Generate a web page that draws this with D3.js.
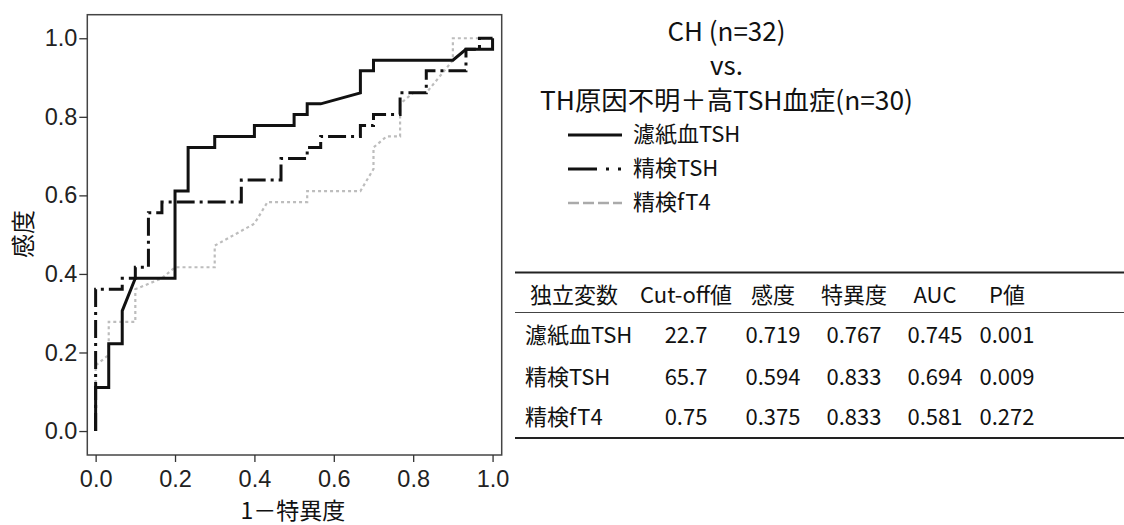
<!DOCTYPE html>
<html>
<head>
<meta charset="utf-8">
<script src="https://cdn.jsdelivr.net/npm/d3@7/dist/d3.min.js"></script>
<style>
  html, body { margin: 0; padding: 0; background: #fff; }
  svg { display: block; }
  .cjk { font-family: "Noto Sans CJK JP", "Noto Sans", sans-serif; fill: #111; }
</style>
</head>
<body>
<svg id="chart" width="1124" height="525"></svg>
<script>
// ROC curves: 1 - specificity (x) and sensitivity (y) for each test
const roshiTshFpr = [0, 0, 0.033, 0.033, 0.067, 0.067, 0.1, 0.2, 0.2, 0.233, 0.233, 0.3, 0.3, 0.4, 0.4, 0.5, 0.5, 0.533, 0.533, 0.567, 0.667, 0.667, 0.7, 0.7, 0.9, 0.933, 1.0, 1.0];
const roshiTshTpr = [0, 0.111, 0.111, 0.222, 0.222, 0.306, 0.389, 0.389, 0.611, 0.611, 0.722, 0.722, 0.75, 0.75, 0.778, 0.778, 0.806, 0.806, 0.833, 0.833, 0.861, 0.917, 0.917, 0.944, 0.944, 0.972, 0.972, 1.0];

const seikenTshFpr = [0, 0, 0.067, 0.067, 0.1, 0.1, 0.133, 0.133, 0.167, 0.167, 0.367, 0.367, 0.467, 0.467, 0.533, 0.533, 0.567, 0.567, 0.667, 0.667, 0.7, 0.7, 0.767, 0.767, 0.833, 0.833, 0.933, 0.933, 0.967, 0.967, 1.0];
const seikenTshTpr = [0, 0.361, 0.361, 0.389, 0.389, 0.417, 0.417, 0.556, 0.556, 0.583, 0.583, 0.639, 0.639, 0.694, 0.694, 0.722, 0.722, 0.75, 0.75, 0.778, 0.778, 0.806, 0.806, 0.861, 0.861, 0.917, 0.917, 0.972, 0.972, 1.0, 1.0];

const seikenFt4Fpr = [0, 0, 0.033, 0.033, 0.1, 0.1, 0.167, 0.2, 0.3, 0.3, 0.4, 0.433, 0.533, 0.533, 0.667, 0.7, 0.7, 0.733, 0.767, 0.767, 0.8, 0.833, 0.9, 0.9, 1.0];
const seikenFt4Tpr = [0, 0.167, 0.194, 0.278, 0.278, 0.361, 0.389, 0.417, 0.417, 0.472, 0.528, 0.583, 0.583, 0.611, 0.611, 0.667, 0.722, 0.75, 0.75, 0.833, 0.861, 0.861, 0.944, 1.0, 1.0];

const axisTicks = [0, 0.2, 0.4, 0.6, 0.8, 1.0];

const titleLines = ["CH (n=32)", "vs.", "TH原因不明＋高TSH血症(n=30)"];
const legendLabels = ["濾紙血TSH", "精検TSH", "精検fT4"];

const tableHeader = ["独立変数", "Cut-off値", "感度", "特異度", "AUC", "P値"];
const rowNames = ["濾紙血TSH", "精検TSH", "精検fT4"];
const cutoffs = ["22.7", "65.7", "0.75"];
const sensitivities = ["0.719", "0.594", "0.375"];
const specificities = ["0.767", "0.833", "0.833"];
const aucs = ["0.745", "0.694", "0.581"];
const pValues = ["0.001", "0.009", "0.272"];

const svg = d3.select("#chart");

// Plot frame and scales
const frame = { left: 87.3, right: 501.7, top: 14.7, bottom: 455 };
const x = d3.scaleLinear().domain([-0.021, 1.023]).range([frame.left, frame.right]);
const y = d3.scaleLinear().domain([-0.061, 1.06]).range([frame.bottom, frame.top]);

const series = [
  { fpr: seikenFt4Fpr, tpr: seikenFt4Tpr, stroke: "#bdbdbd", width: 2.2, dash: "3,3", legendDash: "11,4" },
  { fpr: seikenTshFpr, tpr: seikenTshTpr, stroke: "#111", width: 3, dash: "18,5,3,5", legendDash: "29,9,3,9,3,60" },
  { fpr: roshiTshFpr, tpr: roshiTshTpr, stroke: "#111", width: 3, dash: null, legendDash: null }
];

const line = d3.line().x(d => x(d[0])).y(d => y(d[1]));

series.forEach(s => {
  const pts = s.fpr.map((v, i) => [v, s.tpr[i]]);
  svg.append("path")
    .attr("d", line(pts))
    .attr("fill", "none")
    .attr("stroke", s.stroke)
    .attr("stroke-width", s.width)
    .attr("stroke-linejoin", "miter")
    .attr("stroke-dasharray", s.dash);
});

svg.append("rect")
  .attr("x", frame.left).attr("y", frame.top)
  .attr("width", frame.right - frame.left).attr("height", frame.bottom - frame.top)
  .attr("fill", "none").attr("stroke", "#444").attr("stroke-width", 1.5);

const yAxis = svg.append("g")
  .attr("transform", `translate(${frame.left},0)`)
  .call(d3.axisLeft(y).tickValues(axisTicks).tickFormat(d3.format(".1f")).tickSize(8).tickPadding(2));
const xAxis = svg.append("g")
  .attr("transform", `translate(0,${frame.bottom})`)
  .call(d3.axisBottom(x).tickValues(axisTicks).tickFormat(d3.format(".1f")).tickSize(7).tickPadding(8));
[yAxis, xAxis].forEach(g => {
  g.attr("font-size", null).attr("font-family", null);
  g.select(".domain").remove();
  g.selectAll(".tick line").attr("stroke", "#333").attr("stroke-width", 1.3);
  g.selectAll(".tick text")
    .style("font-family", "'Liberation Sans', Arial, sans-serif")
    .style("font-size", "23.5px")
    .attr("fill", "#222");
});

// Axis titles
svg.append("text").attr("class", "cjk")
  .attr("transform", "translate(32,234) rotate(-90)")
  .attr("text-anchor", "middle").style("font-size", "24px")
  .text("感度");
svg.append("text").attr("class", "cjk")
  .attr("x", 293).attr("y", 519)
  .attr("text-anchor", "middle").style("font-size", "23px")
  .text("1－特異度");

// Title block
const titleY = [41, 75, 110];
titleLines.forEach((t, i) => {
  const el = svg.append("text").attr("class", "cjk")
    .attr("x", 726.5).attr("y", titleY[i])
    .attr("text-anchor", "middle").style("font-size", "26px")
    .text(t);
  if (i === 2) el.attr("textLength", 373).attr("lengthAdjust", "spacingAndGlyphs");
});

// Legend
const legendY = [135, 169, 203];
const legendOrder = [2, 1, 0];
legendLabels.forEach((lab, i) => {
  const s = series[legendOrder[i]];
  svg.append("line")
    .attr("x1", 568).attr("x2", 622)
    .attr("y1", legendY[i]).attr("y2", legendY[i])
    .attr("stroke", i === 2 ? "#aaa" : s.stroke)
    .attr("stroke-width", i === 2 ? 2.5 : 3)
    .attr("stroke-dasharray", s.legendDash);
  svg.append("text").attr("class", "cjk")
    .attr("x", 633).attr("y", legendY[i] + 7)
    .style("font-size", "22px")
    .text(lab);
});

// Results table
const colX = [574, 686, 773, 854, 935, 1007];
const tableLeft = 515, tableRight = 1124;
svg.append("line").attr("x1", tableLeft).attr("x2", tableRight).attr("y1", 272.5).attr("y2", 272.5)
  .attr("stroke", "#222").attr("stroke-width", 1.8);
svg.append("line").attr("x1", tableLeft).attr("x2", tableRight).attr("y1", 312.5).attr("y2", 312.5)
  .attr("stroke", "#444").attr("stroke-width", 1.1);
svg.append("line").attr("x1", tableLeft).attr("x2", tableRight).attr("y1", 438).attr("y2", 438)
  .attr("stroke", "#222").attr("stroke-width", 1.8);

tableHeader.forEach((h, i) => {
  svg.append("text").attr("class", "cjk")
    .attr("x", colX[i]).attr("y", 303)
    .attr("text-anchor", "middle").style("font-size", "22px")
    .text(h);
});

const rowY = [343, 385, 425];
rowNames.forEach((name, r) => {
  const cells = [cutoffs[r], sensitivities[r], specificities[r], aucs[r], pValues[r]];
  svg.append("text").attr("class", "cjk")
    .attr("x", 525).attr("y", rowY[r])
    .style("font-size", "22px")
    .text(name);
  cells.forEach((c, j) => {
    svg.append("text").attr("class", "cjk")
      .attr("x", colX[j + 1]).attr("y", rowY[r])
      .attr("text-anchor", "middle").style("font-size", "22px")
      .text(c);
  });
});
</script>
</body>
</html>
